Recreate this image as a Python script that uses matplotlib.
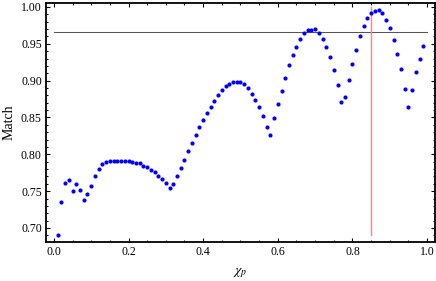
import matplotlib

matplotlib.use("Agg")

import matplotlib.pyplot as plt
import numpy as np
from matplotlib.ticker import MultipleLocator, FormatStrFormatter

# spin parameter grid and match values
chi_p = [round(0.01 * k, 2) for k in range(1, 100)]
match = [
    0.6906, 0.7355, 0.7609, 0.7645, 0.7505, 0.7591, 0.7514, 0.7382, 0.7455, 0.7568,
    0.7708, 0.7803, 0.7871, 0.7899, 0.7908, 0.7912, 0.7908, 0.7908, 0.7908, 0.7904,
    0.7899, 0.7885, 0.7876, 0.7844, 0.7830, 0.7790, 0.7754, 0.7704, 0.7663, 0.7613,
    0.7545, 0.7591, 0.7704, 0.7817, 0.7921, 0.8048, 0.8156, 0.8261, 0.8370, 0.8465,
    0.8564, 0.8645, 0.8727, 0.8804, 0.8872, 0.8927, 0.8958, 0.8977, 0.8977, 0.8977,
    0.8958, 0.8899, 0.8822, 0.8736, 0.8641, 0.8519, 0.8365, 0.8265, 0.8487, 0.8686,
    0.8859, 0.9040, 0.9208, 0.9344, 0.9457, 0.9571, 0.9647, 0.9686, 0.9692, 0.9701,
    0.9651, 0.9565, 0.9457, 0.9316, 0.9139, 0.8940, 0.8709, 0.8773, 0.9008, 0.9221,
    0.9420, 0.9610, 0.9737, 0.9851, 0.9918, 0.9950, 0.9964, 0.9918, 0.9828, 0.9715,
    0.9552, 0.9366, 0.9158, 0.8890, 0.8641, 0.8877, 0.9113, 0.9293, 0.9466,
]
threshold = 0.9656
chi_mark = 0.85
mark_span = (0.69, 1.0)

plt.rcParams["font.family"] = ["Liberation Serif", "DejaVu Serif"]
plt.rcParams["mathtext.fontset"] = "stix"

fig = plt.figure(figsize=(4.36, 2.81), dpi=100)
ax = fig.add_axes([0.1055, 0.1388, 0.8922, 0.8505])

ax.plot([0.0, 1.0], [threshold, threshold], color="#555555", linewidth=0.75, zorder=1)
ax.plot([chi_mark, chi_mark], mark_span, color="#f08a8a", linewidth=1.0, zorder=1)
ax.scatter(chi_p, match, s=9, color="#0000ff", linewidths=0, zorder=3)

ax.set_xlim(-0.021, 1.021)
ax.set_ylim(0.681, 1.0054)

ax.xaxis.set_major_locator(MultipleLocator(0.2))
ax.xaxis.set_minor_locator(MultipleLocator(0.05))
ax.yaxis.set_major_locator(MultipleLocator(0.05))
ax.yaxis.set_minor_locator(MultipleLocator(0.01))
ax.xaxis.set_major_formatter(FormatStrFormatter("%.1f"))
ax.yaxis.set_major_formatter(FormatStrFormatter("%.2f"))

ax.tick_params(which="both", direction="in", top=True, right=True,
               labelsize=8.5, width=0.8, pad=3)
ax.tick_params(which="major", length=3.0)
ax.tick_params(which="minor", length=1.6)
for spine in ax.spines.values():
    spine.set_linewidth(1.3)

ax.set_xlabel(r"$\chi_p$", fontsize=10, labelpad=6)
ax.set_ylabel("Match", fontsize=10, labelpad=4)

fig.savefig("out.png", dpi=100)
